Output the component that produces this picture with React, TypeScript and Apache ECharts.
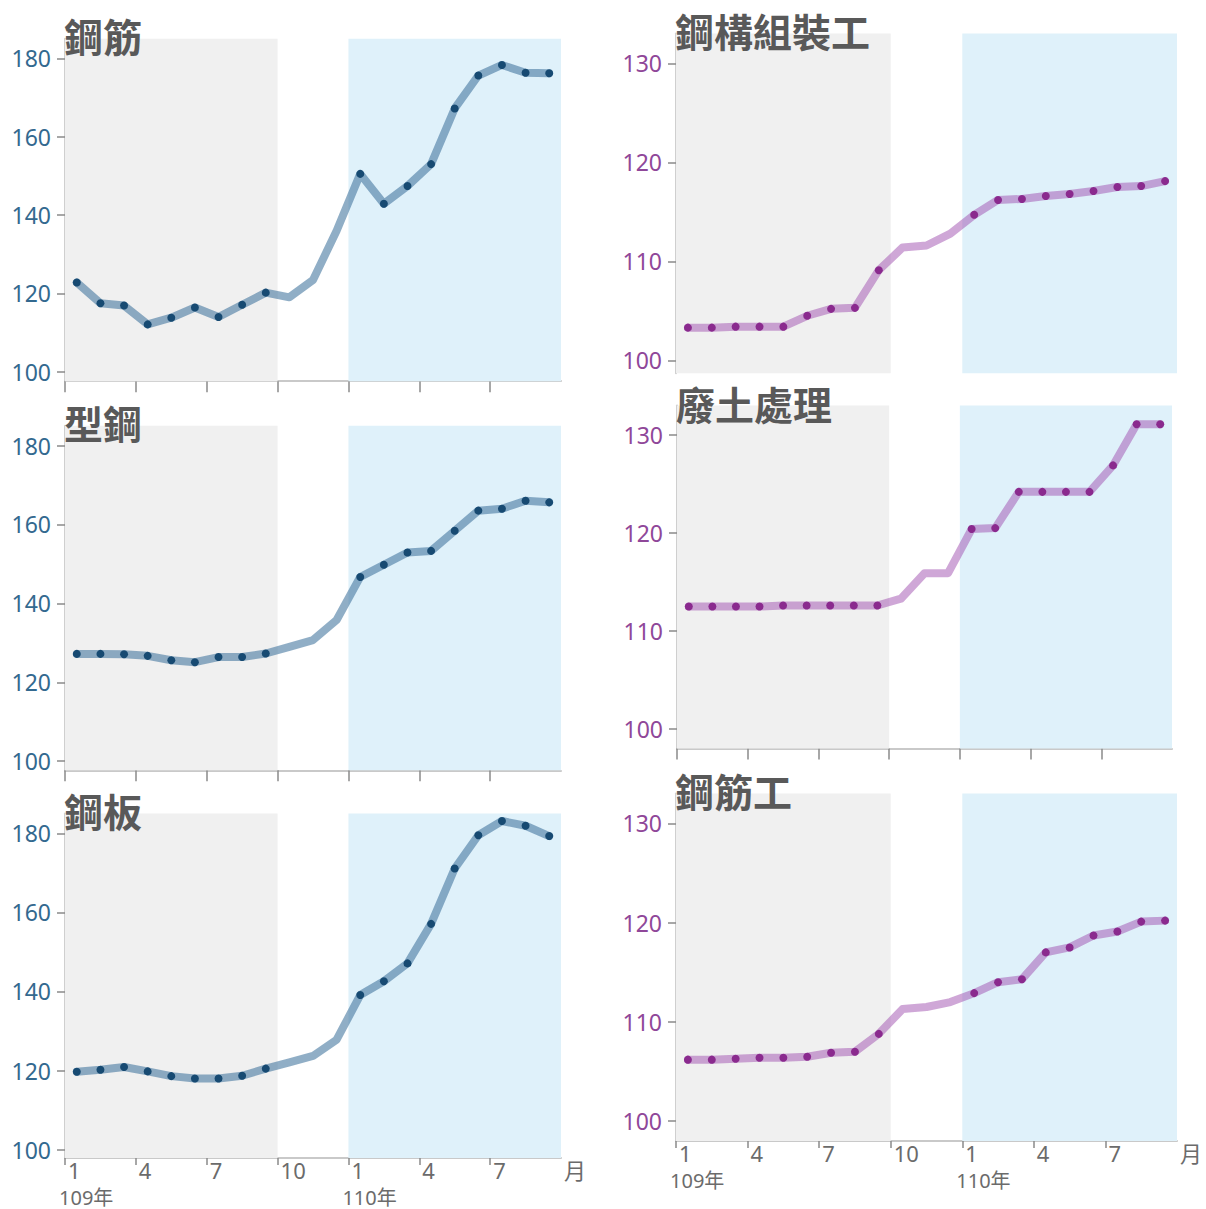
import React, { useEffect, useRef } from "react";
import * as echarts from "echarts";

// Monthly index values, 109年1月 – 110年9月 (21 months)
const months = [
  "109/1", "109/2", "109/3", "109/4", "109/5", "109/6", "109/7", "109/8", "109/9",
  "109/10", "109/11", "109/12",
  "110/1", "110/2", "110/3", "110/4", "110/5", "110/6", "110/7", "110/8", "110/9",
];

// Materials (鋼材)
const rebar = [122.8, 117.5, 116.9, 112.1, 113.8, 116.4, 114.0, 117.1, 120.2, 119.0, 123.4, 136.0, 150.5, 142.9, 147.4, 153.0, 167.2, 175.6, 178.3, 176.3, 176.2];
const sectionSteel = [127.2, 127.2, 127.1, 126.7, 125.6, 125.1, 126.4, 126.4, 127.3, 129.0, 130.7, 135.8, 146.7, 149.8, 152.9, 153.3, 158.4, 163.5, 164.0, 166.0, 165.6];
const steelPlate = [119.7, 120.2, 120.9, 119.8, 118.6, 118.0, 118.0, 118.7, 120.5, 122.1, 123.7, 127.8, 139.1, 142.6, 147.1, 157.1, 171.1, 179.5, 183.1, 181.9, 179.3];

// Labour & services (工資・處理費)
const steelErector = [103.3, 103.3, 103.4, 103.4, 103.4, 104.5, 105.2, 105.3, 109.1, 111.4, 111.6, 112.8, 114.7, 116.2, 116.3, 116.6, 116.8, 117.1, 117.5, 117.6, 118.1];
const spoilDisposal = [112.5, 112.5, 112.5, 112.5, 112.6, 112.6, 112.6, 112.6, 112.6, 113.3, 115.9, 115.9, 120.4, 120.5, 124.2, 124.2, 124.2, 124.2, 126.9, 131.1, 131.1];
const rebarWorker = [106.2, 106.2, 106.3, 106.4, 106.4, 106.5, 106.9, 107.0, 108.8, 111.3, 111.5, 112.0, 112.9, 114.0, 114.3, 117.0, 117.5, 118.7, 119.1, 120.1, 120.2];

// Axis ticks and labels
const monthTickLabels = ["1", "4", "7", "10", "1", "4", "7", "月"];
const materialTicks = [100, 120, 140, 160, 180];
const labourTicks = [100, 110, 120, 130];
const yearStarts = [
  { label: "109年", month: "109/1" },
  { label: "110年", month: "110/1" },
];

// Compared periods: 109年1–9月 (gray) and 110年1–9月 (blue)
const earlyPeriod = ["109/1", "109/9"];
const latePeriod = ["110/1", "110/9"];

const FONT = "'Noto Sans', 'Noto Sans CJK TC', sans-serif";
const TITLE_FONT = "'Noto Sans CJK TC', sans-serif";

const materialStyle = {
  line: "rgba(70, 120, 160, 0.6)",
  dot: "#174a72",
  label: "#33698f",
};
const labourStyle = {
  line: "rgba(160, 80, 175, 0.5)",
  dot: "#8a2a8e",
  label: "#8f4799",
};

type Panel = {
  title: string;
  values: number[];
  ticks: number[];
  style: typeof materialStyle;
  left: number;
  width: number;
  top: number;
  height: number;
  min: number;
  max: number;
  titleY: number;
  xAxisMode: "none" | "ticks" | "labels";
};

const panels: Panel[] = [
  { title: "鋼筋", values: rebar, ticks: materialTicks, style: materialStyle, left: 65, width: 496, top: 38.7, height: 342.5, min: 97.6, max: 185, titleY: 35, xAxisMode: "ticks" },
  { title: "型鋼", values: sectionSteel, ticks: materialTicks, style: materialStyle, left: 65, width: 496, top: 425.8, height: 344.5, min: 97.7, max: 185, titleY: 422, xAxisMode: "ticks" },
  { title: "鋼板", values: steelPlate, ticks: materialTicks, style: materialStyle, left: 65, width: 496, top: 813.5, height: 344.5, min: 97.9, max: 185, titleY: 810, xAxisMode: "labels" },
  { title: "鋼構組裝工", values: steelErector, ticks: labourTicks, style: labourStyle, left: 676, width: 501, top: 33.6, height: 339.6, min: 98.7, max: 133, titleY: 30, xAxisMode: "none" },
  { title: "廢土處理", values: spoilDisposal, ticks: labourTicks, style: labourStyle, left: 677, width: 495, top: 405.6, height: 343, min: 98, max: 133, titleY: 403, xAxisMode: "ticks" },
  { title: "鋼筋工", values: rebarWorker, ticks: labourTicks, style: labourStyle, left: 676, width: 501, top: 793.5, height: 347.6, min: 98, max: 133, titleY: 790, xAxisMode: "labels" },
];

const idx = (m: string) => months.indexOf(m);
const inPeriod = (i: number, p: string[]) => i >= idx(p[0]) && i <= idx(p[1]);

const monthTickValues = monthTickLabels.map((_, k) => k * 3);

function buildOption() {
  const grid = panels.map((p) => ({
    left: p.left,
    top: p.top,
    width: p.width,
    height: p.height,
    containLabel: false,
  }));

  const xAxis = panels.map((p, k) => ({
    type: "value",
    gridIndex: k,
    min: 0,
    max: months.length,
    interval: 3,
    splitLine: { show: false },
    axisLine: {
      show: p.xAxisMode !== "none",
      onZero: false,
      lineStyle: { color: "#c9c9c9", width: 2 },
    },
    axisTick: {
      show: p.xAxisMode !== "none",
      length: p.xAxisMode === "labels" ? 7 : 11,
      customValues: monthTickValues.slice(0, -1),
      lineStyle: { color: "#8a8a8a", width: 1.5 },
    },
    axisLabel: {
      show: p.xAxisMode === "labels",
      customValues: monthTickValues,
      formatter: (v: number) => monthTickLabels[Math.round(v / 3)] ?? "",
      align: "left",
      padding: [0, 0, 0, 3],
      margin: 1,
      fontSize: 22,
      lineHeight: 22,
      color: "#6b6b6b",
      fontFamily: FONT,
    },
  }));

  const yAxis = panels.map((p, k) => ({
    type: "value",
    gridIndex: k,
    min: p.min,
    max: p.max,
    splitLine: { show: false },
    axisLine: { show: true, lineStyle: { color: "#cfcfcf", width: 2 } },
    axisTick: {
      show: true,
      length: 8,
      customValues: p.ticks,
      lineStyle: { color: "#8a8a8a", width: 1.5 },
    },
    axisLabel: {
      customValues: p.ticks,
      margin: 14,
      fontSize: 23,
      color: p.style.label,
      fontFamily: FONT,
    },
  }));

  const series = panels.map((p, k) => ({
    type: "line",
    xAxisIndex: k,
    yAxisIndex: k,
    data: p.values.map((v, i) => ({
      value: [i + 0.5, v],
      symbol: inPeriod(i, earlyPeriod) || inPeriod(i, latePeriod) ? "circle" : "none",
    })),
    symbolSize: 8,
    showAllSymbol: true,
    itemStyle: { color: p.style.dot, borderWidth: 0 },
    lineStyle: { color: p.style.line, width: 8, join: "round", cap: "round" },
    emphasis: { disabled: true },
    markArea: {
      silent: true,
      data: [
        [
          { xAxis: idx(earlyPeriod[0]), itemStyle: { color: "#f0f0f0" } },
          { xAxis: idx(earlyPeriod[1]) + 1 },
        ],
        [
          { xAxis: idx(latePeriod[0]), itemStyle: { color: "#dff1fa" } },
          { xAxis: idx(latePeriod[1]) + 1 },
        ],
      ],
    },
  }));

  return {
    animation: false,
    textStyle: { fontFamily: FONT },
    grid,
    xAxis,
    yAxis,
    series,
  };
}

export default function App() {
  const ref = useRef<HTMLDivElement>(null);

  useEffect(() => {
    if (!ref.current) return;
    const chart = echarts.init(ref.current, undefined, { renderer: "svg" });
    chart.setOption(buildOption() as any);

    const titles = panels.map((p) => ({
      type: "text",
      x: p.left - 1,
      y: p.titleY,
      z: 20,
      style: {
        text: p.title,
        fontSize: 39,
        fontWeight: "bold",
        fontFamily: TITLE_FONT,
        fill: "#595959",
        verticalAlign: "middle",
      },
    }));

    const years = panels
      .map((p, k) => ({ p, k }))
      .filter(({ p }) => p.xAxisMode === "labels")
      .flatMap(({ p, k }) =>
        yearStarts.map((y) => {
          const [px, py] = chart.convertToPixel({ gridIndex: k }, [idx(y.month), p.min]) as number[];
          return {
            type: "text",
            x: px - 6,
            y: py + 39,
            style: {
              text: y.label,
              fontSize: 20,
              lineHeight: 20,
              fontFamily: FONT,
              fill: "#6b6b6b",
              verticalAlign: "middle",
            },
          };
        })
      );

    chart.setOption({ graphic: [...titles, ...years] } as any);
    return () => chart.dispose();
  }, []);

  return (
    <div
      ref={ref}
      style={{ position: "absolute", left: 0, top: 0, width: 1206, height: 1209, background: "#fff" }}
    />
  );
}
